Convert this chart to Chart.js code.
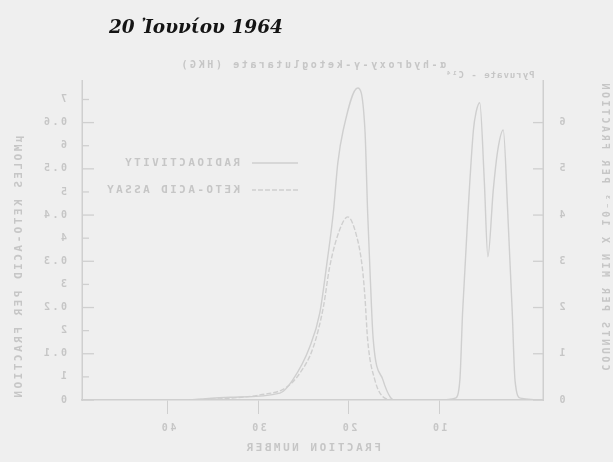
<!DOCTYPE html>
<html>
<head>
<meta charset="utf-8">
<script src="https://cdn.jsdelivr.net/npm/chart.js@4.4.0/dist/chart.umd.min.js"></script>
<style>
  html, body { margin: 0; padding: 0; background: #efefef; }
  #wrap { position: relative; width: 613px; height: 462px; overflow: hidden; }
  /* the figure is the show-through of the back of the page, so it is mirrored */
  #chart { position: absolute; left: 0; top: 0; transform: scaleX(-1); }
  #date { position: absolute; left: 109px; top: 16px; font: italic bold 18.5px "DejaVu Serif"; color: #141414; white-space: nowrap; }
</style>
</head>
<body>
<div id="wrap">
  <canvas id="chart" width="613" height="462"></canvas>
  <div id="date">20 Ἰουνίου 1964</div>
</div>
<script>
// fraction number vs counts (x 10^-3) for the radioactivity curve
const radioFractions = [-1.5, 1.0, 1.6, 1.9, 2.4, 2.9, 3.5, 4.0, 4.6, 5.0, 5.5, 5.9, 6.2, 6.8, 7.4, 7.7, 8.2, 10, 15, 15.4, 16.2, 17.3, 17.6, 17.9, 18.2, 19.0, 20.6, 21.2, 21.7, 22.4, 23.2, 24.3, 26.2, 27.6, 33.1, 37.6]
const radioCounts = [0, 0.04, 0.43, 1.88, 4.05, 5.84, 5.41, 4.55, 3.10, 4.76, 6.43, 6.23, 5.84, 4.05, 1.88, 0.43, 0.04, 0, 0, 0.06, 0.43, 1.35, 2.60, 4.05, 5.84, 6.75, 5.84, 5.13, 4.05, 2.97, 1.88, 1.15, 0.43, 0.15, 0.06, 0]

// keto-acid assay (umoles per fraction)
const ketoFractions = [15.0, 16.0, 17.1, 17.9, 18.2, 18.5, 19.1, 20.1, 21.0, 22.1, 22.8, 23.9, 25.4, 27.0, 29.8, 33.1, 37.6]
const ketoValues = [0, 0.004, 0.043, 0.130, 0.223, 0.288, 0.353, 0.396, 0.368, 0.288, 0.201, 0.115, 0.058, 0.026, 0.011, 0.004, 0]

const fractionTicks = [10, 20, 30, 40]
const radioTicks = [0, 1, 2, 3, 4, 5, 6]
const ketoTicks = [0, 0.05, 0.1, 0.15, 0.2, 0.25, 0.3, 0.35, 0.4, 0.45, 0.5, 0.55, 0.6, 0.65]
const ketoTickLabels = ['0', '1', '0.1', '2', '0.2', '3', '0.3', '4', '0.4', '5', '0.5', '6', '0.6', '7']

const seriesLabels = ['RADIOACTIVITY', 'KETO-ACID ASSAY']
const peakLabels = [
  { text: 'α-hydroxy-γ-ketoglutarate (HKG)', fraction: 24.0 },
  { text: 'Pyruvate - C¹⁴', fraction: 4.4 }
]

const lineGrey = '#cfcfcf'
const textGrey = '#c6c6c6'
const typewriter = '"DejaVu Sans Mono", monospace'

function points(xs, ys) {
  return xs.map((x, i) => ({ x: x, y: ys[i] }))
}
function fixedTicks(values) {
  return scale => { scale.ticks = values.map(v => ({ value: v })) }
}

const spacing = {
  id: 'spacing',
  beforeDraw(chart) {
    chart.ctx.letterSpacing = '2.5px'
  }
}

const innerTicks = {
  id: 'innerTicks',
  afterDraw(chart) {
    const ctx = chart.ctx
    const a = chart.chartArea
    ctx.save()
    ctx.strokeStyle = lineGrey
    ctx.lineWidth = 1.3
    chart.scales.yRadio.ticks.forEach(t => {
      const y = chart.scales.yRadio.getPixelForValue(t.value)
      ctx.beginPath(); ctx.moveTo(a.left, y); ctx.lineTo(a.left + 10, y); ctx.stroke()
    })
    chart.scales.yKeto.ticks.forEach((t, i) => {
      const y = chart.scales.yKeto.getPixelForValue(t.value)
      const len = i % 2 ? 7 : 12
      ctx.beginPath(); ctx.moveTo(a.right, y); ctx.lineTo(a.right - len, y); ctx.stroke()
    })
    ctx.restore()
  }
}

const notes = {
  id: 'notes',
  afterDraw(chart) {
    const ctx = chart.ctx
    const x = chart.scales.x
    ctx.save()
    ctx.fillStyle = textGrey
    ctx.strokeStyle = lineGrey
    ctx.textBaseline = 'middle'
    ctx.textAlign = 'center'
    ctx.font = 'bold 10px ' + typewriter
    ctx.letterSpacing = '2.6px'
    ctx.fillText(peakLabels[0].text, x.getPixelForValue(peakLabels[0].fraction), 65)
    ctx.font = 'bold 9px ' + typewriter
    ctx.letterSpacing = '1px'
    ctx.fillText(peakLabels[1].text, x.getPixelForValue(peakLabels[1].fraction), 76)

    // legend, line sample then text
    ctx.font = 'bold 11px ' + typewriter
    ctx.letterSpacing = '2.4px'
    ctx.textAlign = 'left'
    chart.data.datasets.forEach((ds, i) => {
      const y = 163 + i * 27
      ctx.lineWidth = 1.3
      ctx.setLineDash(ds.borderDash || [])
      ctx.beginPath(); ctx.moveTo(315, y); ctx.lineTo(361, y); ctx.stroke()
      ctx.setLineDash([])
      ctx.fillText(ds.label, 373, y)
    })
    ctx.restore()
  }
}

const axisFont = { family: typewriter, size: 10, weight: 'bold' }

const ctx = document.getElementById('chart').getContext('2d')
const chart = new Chart(ctx, {
  type: 'line',
  data: {
    datasets: [
      {
        label: seriesLabels[0],
        data: points(radioFractions, radioCounts),
        yAxisID: 'yRadio',
        borderColor: lineGrey,
        borderWidth: 1.4,
        pointRadius: 0,
        cubicInterpolationMode: 'monotone'
      },
      {
        label: seriesLabels[1],
        data: points(ketoFractions, ketoValues),
        yAxisID: 'yKeto',
        borderColor: lineGrey,
        borderWidth: 1.4,
        borderDash: [5, 2],
        pointRadius: 0,
        cubicInterpolationMode: 'monotone'
      }
    ]
  },
  options: {
    responsive: false,
    devicePixelRatio: 1,
    animation: false,
    layout: { padding: { top: 81, left: 0, right: 0, bottom: 0 } },
    plugins: {
      legend: { display: false },
      tooltip: { enabled: false }
    },
    scales: {
      x: {
        type: 'linear',
        min: -1.5,
        max: 49.5,
        afterBuildTicks: fixedTicks(fractionTicks),
        afterFit: s => { s.height = 62 },
        grid: { drawOnChartArea: false, drawTicks: true, tickLength: 14, color: lineGrey },
        border: { color: lineGrey, width: 1.5 },
        ticks: { color: textGrey, padding: 8, maxRotation: 0, font: axisFont },
        title: {
          display: true,
          text: 'FRACTION NUMBER',
          color: textGrey,
          padding: { top: 0, bottom: 7 },
          font: { family: typewriter, size: 11, weight: 'bold' }
        }
      },
      yRadio: {
        position: 'left',
        min: 0,
        max: 6.9,
        afterBuildTicks: fixedTicks(radioTicks),
        afterFit: s => { s.width = 70 },
        grid: { drawOnChartArea: false, drawTicks: false },
        border: { color: lineGrey, width: 1.5 },
        ticks: { color: textGrey, padding: 14, font: axisFont },
        title: {
          display: true,
          align: 'end',
          text: 'COUNTS PER MIN X 10⁻³ PER FRACTION',
          color: textGrey,
          padding: { top: 2, bottom: 0 },
          font: { family: typewriter, size: 10, weight: 'bold' }
        }
      },
      yKeto: {
        position: 'right',
        min: 0,
        max: 0.69,
        afterBuildTicks: fixedTicks(ketoTicks),
        afterFit: s => { s.width = 82 },
        grid: { drawOnChartArea: false, drawTicks: false },
        border: { color: lineGrey, width: 1.5 },
        ticks: {
          color: textGrey,
          padding: 15,
          font: axisFont,
          callback: (v, i) => ketoTickLabels[i]
        },
        title: {
          display: true,
          align: 'start',
          text: 'μMOLES KETO-ACID PER FRACTION',
          color: textGrey,
          padding: { top: 13, bottom: 0 },
          font: { family: typewriter, size: 11, weight: 'bold' }
        }
      }
    }
  },
  plugins: [spacing, innerTicks, notes]
})
</script>
</body>
</html>
